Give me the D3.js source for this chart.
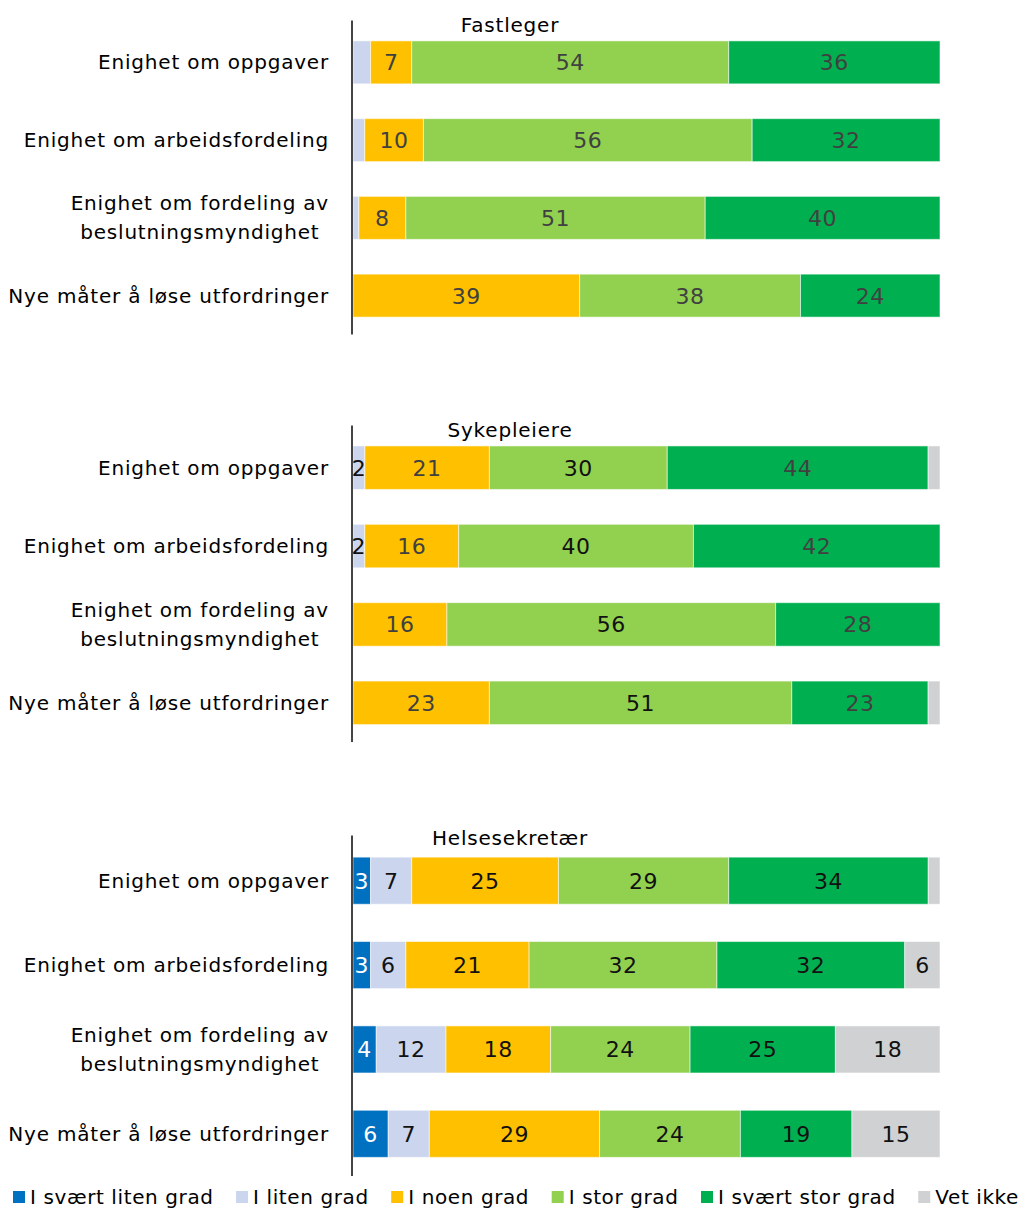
<!DOCTYPE html>
<html><head><meta charset="utf-8">
<script src="https://cdn.jsdelivr.net/npm/d3@7"></script>
<style>
  body { margin: 0; background: #fff; }
  svg { display: block; font-family: "DejaVu Sans", sans-serif; }
</style>
</head><body>
<svg id="chart" width="1021" height="1211"></svg>
<script>
// Survey items (a "\n" breaks the label onto two lines)
const categories = [
  "Enighet om oppgaver",
  "Enighet om arbeidsfordeling",
  "Enighet om fordeling av\nbeslutningsmyndighet",
  "Nye måter å løse utfordringer"
];
const seriesNames = ["I svært liten grad", "I liten grad", "I noen grad", "I stor grad", "I svært stor grad", "Vet ikke"];
const groupNames = ["Fastleger", "Sykepleiere", "Helsesekretær"];

// Percentages per item, in the order of seriesNames
const fastlegerValues = [
  [0, 3, 7, 54, 36, 0],
  [0, 2, 10, 56, 32, 0],
  [0, 1, 8, 51, 40, 0],
  [0, 0, 39, 38, 24, 0]
];
const sykepleiereValues = [
  [0, 2, 21, 30, 44, 2],
  [0, 2, 16, 40, 42, 0],
  [0, 0, 16, 56, 28, 0],
  [0, 0, 23, 51, 23, 2]
];
const helsesekretaerValues = [
  [3, 7, 25, 29, 34, 2],
  [3, 6, 21, 32, 32, 6],
  [4, 12, 18, 24, 25, 18],
  [6, 7, 29, 24, 19, 15]
];
// Segments left without a printed number: [item index, series index]
const fastlegerUnlabeled = [[0, 1], [1, 1], [2, 1]];
const sykepleiereUnlabeled = [[0, 5], [3, 5]];
const helsesekretaerUnlabeled = [[0, 5]];

// ---- styling / layout ----
const colors = ["#0070C0", "#CBD5EE", "#FFC000", "#92D050", "#00B050", "#D0D1D3"];
const dark = "#404040", black = "#111", white = "#fff";
const panels = [
  { name: groupNames[0], values: fastlegerValues, unlabeled: fastlegerUnlabeled,
    range: [23.5, 334.5], pad: 0.447, titleY: 32,
    labelColors: [white, dark, dark, dark, dark, dark] },
  { name: groupNames[1], values: sykepleiereValues, unlabeled: sykepleiereUnlabeled,
    range: [428.5, 742], pad: 0.445, titleY: 437,
    labelColors: [white, black, dark, black, dark, dark] },
  { name: groupNames[2], values: helsesekretaerValues, unlabeled: helsesekretaerUnlabeled,
    range: [838.5, 1176], pad: 0.442, titleY: 845,
    labelColors: [white, black, black, black, black, black] }
];

const svg = d3.select("#chart");
const x = d3.scaleLinear().domain([0, 1]).range([353, 940]);
const axisX = 352;
const catRight = 329;

const stack = d3.stack()
  .keys(d3.range(seriesNames.length))
  .value((row, k) => row[k])
  .offset(d3.stackOffsetExpand);

panels.forEach(p => {
  const y = d3.scaleBand()
    .domain(d3.range(categories.length))
    .range(p.range)
    .paddingInner(p.pad)
    .paddingOuter(p.pad / 2);

  const g = svg.append("g");
  const layers = stack(p.values);
  const hidden = new Set(p.unlabeled.map(d => d.join(",")));

  layers.forEach((layer, k) => {
    const lg = g.append("g");
    lg.selectAll("rect")
      .data(layer.map((seg, i) => ({ seg, i })).filter(d => p.values[d.i][k] > 0))
      .join("rect")
      .attr("x", d => x(d.seg[0]))
      .attr("width", d => x(d.seg[1]) - x(d.seg[0]))
      .attr("y", d => y(d.i))
      .attr("height", y.bandwidth())
      .attr("fill", colors[k])
      .attr("stroke", "rgba(255,255,255,0.55)")
      .attr("stroke-width", 1);

    lg.selectAll("text")
      .data(layer.map((seg, i) => ({ seg, i }))
        .filter(d => p.values[d.i][k] > 0 && !hidden.has(d.i + "," + k)))
      .join("text")
      .attr("x", d => (x(d.seg[0]) + x(d.seg[1])) / 2)
      .attr("y", d => y(d.i) + y.bandwidth() / 2 + 8)
      .attr("text-anchor", "middle")
      .attr("font-size", 22)
      .attr("letter-spacing", 0.5)
      .attr("fill", p.labelColors[k])
      .text(d => p.values[d.i][k]);
  });

  // vertical category axis line
  g.append("line")
    .attr("x1", axisX).attr("x2", axisX)
    .attr("y1", p.range[0] - 3).attr("y2", p.range[1])
    .attr("stroke", "#444").attr("stroke-width", 2);

  // group title
  g.append("text")
    .attr("x", 510).attr("y", p.titleY)
    .attr("text-anchor", "middle")
    .attr("font-size", 20)
    .attr("letter-spacing", 0.8)
    .attr("fill", "#000")
    .text(p.name);

  // category labels: right-aligned block, multi-line centred within it
  categories.forEach((c, i) => {
    const lines = c.split("\n");
    const t = g.append("text")
      .attr("font-size", 20)
      .attr("letter-spacing", 0.8)
      .attr("fill", "#000")
      .attr("text-anchor", "middle");
    const spans = lines.map(l => t.append("tspan").text(l));
    const widths = spans.map(s => s.node().getComputedTextLength());
    const cx = catRight - d3.max(widths) / 2;
    const cy = y(i) + y.bandwidth() / 2;
    spans.forEach((s, j) => {
      s.attr("x", cx).attr("y", cy + (j - (lines.length - 1) / 2) * 29 + 7);
    });
  });
});

// legend: items spread across the bottom
const legend = svg.append("g");
const items = seriesNames.map((n, k) => {
  const it = legend.append("g");
  it.append("rect").attr("width", 12).attr("height", 12).attr("y", 1191).attr("fill", colors[k]);
  const t = it.append("text").attr("x", 17).attr("y", 1204)
    .attr("font-size", 20).attr("letter-spacing", 0.6).attr("fill", "#000").text(n);
  return { it, w: 17 + t.node().getComputedTextLength() };
});
const legStart = 13, legEnd = 1019;
const gap = (legEnd - legStart - d3.sum(items, d => d.w)) / (items.length - 1);
let cursor = legStart;
items.forEach(d => { d.it.attr("transform", `translate(${cursor},0)`); cursor += d.w + gap; });
</script>
</body></html>
